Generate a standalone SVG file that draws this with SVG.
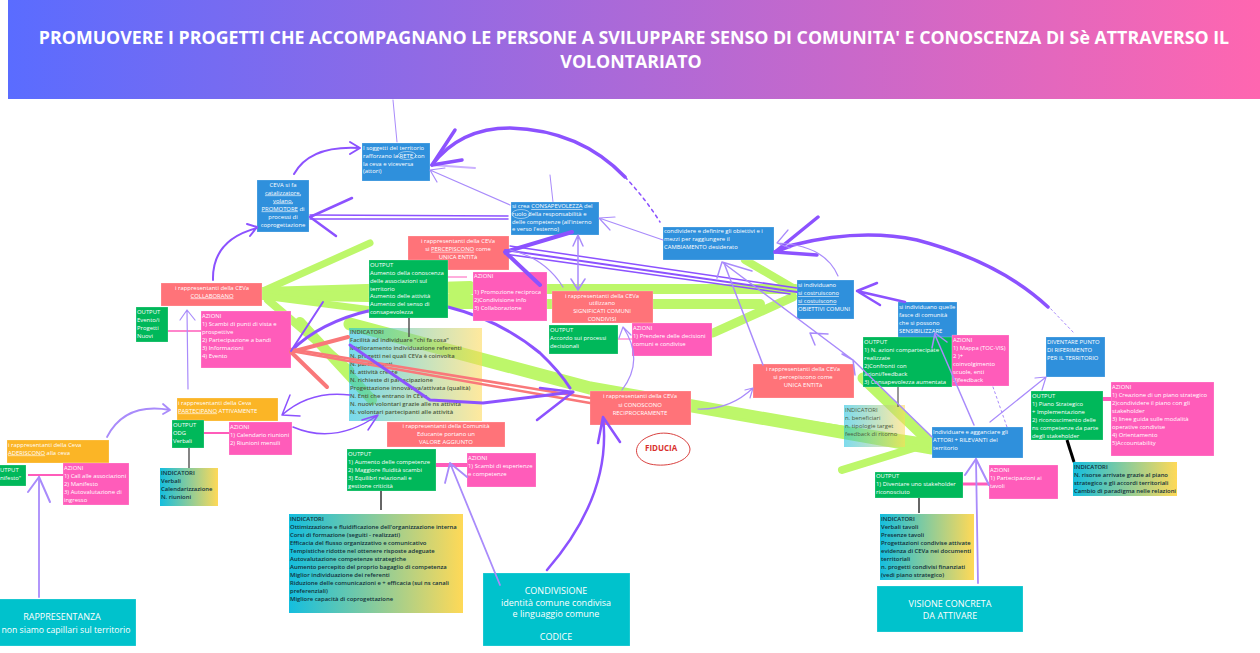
<svg xmlns="http://www.w3.org/2000/svg" width="1260" height="653" viewBox="0 0 1260 653">
<style>
text{font-family:"Open Sans","Liberation Sans",sans-serif;font-size:5.9px;fill:#fff}
.c{text-anchor:middle}
.u{text-decoration:underline}
.d{fill:#10303a;font-weight:600}
.dl{fill:#4d5a3c;font-weight:600}
.big{font-size:9px;text-anchor:middle}
.title{font-size:17.8px;font-weight:700;text-anchor:middle}
.blue{fill:#2f90dc}.coral{fill:#ff7379}.green{fill:#00b85a}.pink{fill:#ff5cba}.orange{fill:#fbb526}.teal{fill:#00c2cc}
.box{stroke:#fff;stroke-opacity:.35;stroke-width:.6}
.p,.lp,.g,.r,.k,.m{fill:none;stroke-linecap:round;stroke-linejoin:round}
.p{stroke:#8c52ff}.lp{stroke:#a98bfb}.g{stroke:#bdf76a}.r{stroke:#f9787a}.k{stroke:#555;stroke-linecap:butt}.m{stroke:#ff5cba;stroke-linecap:butt}
</style>
<defs>
<linearGradient id="hd" x1="0" x2="1" y1="0" y2="0"><stop offset="0" stop-color="#5a6cff"/><stop offset="1" stop-color="#ff66b0"/></linearGradient>
<linearGradient id="ind" x1="0" x2="1" y1="0" y2="0"><stop offset="0" stop-color="#14bedf"/><stop offset="1" stop-color="#ffd957"/></linearGradient>
</defs>
<rect width="1260" height="653" fill="#fff"/>
<g id="header"><rect x="8" y="0" width="1252" height="99" fill="url(#hd)"/>
<text class="title" x="634" y="44">PROMUOVERE I PROGETTI CHE ACCOMPAGNANO LE PERSONE A SVILUPPARE SENSO DI COMUNITA' E CONOSCENZA DI Sè ATTRAVERSO IL</text>
<text class="title" x="631" y="68">VOLONTARIATO</text></g>

<g id="connectors-back">
<g class="g" stroke-width="7">
<path d="M263 291L370 243" stroke-width="7"/><path d="M263 291L470 285" stroke-width="8"/><path d="M263 295L470 299" stroke-width="10"/><path d="M263 296L372 310" stroke-width="7"/>
<path d="M268 300L350 370" stroke-width="8"/><path d="M300 322L372 400" stroke-width="10"/>
<path d="M450 289H795" stroke-width="10"/><path d="M450 304H760" stroke-width="10"/><path d="M713 333L793 297" stroke-width="9"/><path d="M745 260L793 288" stroke-width="8"/>
<path d="M350 324L590 388L932 448" stroke-width="13"/>
<path d="M863 378L930 442" stroke-width="11"/><path d="M930 443L842 470" stroke-width="8"/><path d="M932 443L700 408" stroke-width="8"/>
</g>
<path class="p" stroke-width="3" d="M372 310Q320 322 291 351"/>
<path class="p" stroke-width="3" d="M448 307Q500 320 540 353Q560 372 570 388"/>
<path class="lp" stroke-width="1" d="M397 142L393 100"/><path class="lp" stroke-width="1" d="M553 202L550 175"/>
</g>

<g id="node-soggetti"><rect class="blue box" x="362" y="143" width="68" height="38"/><text x="363" y="150">I soggetti del territorio<tspan x="363" dy="7.8">rafforzano la RETE con</tspan><tspan x="363" dy="7.8">la ceva e viceversa</tspan><tspan x="363" dy="7.8">(attori)</tspan></text><ellipse cx="407" cy="155.5" rx="9" ry="4" fill="none" stroke="#fff" stroke-width=".5"/></g>
<g id="node-ceva"><rect class="blue box" x="257" y="180" width="52" height="52"/><text class="c" x="283" y="186.500">CEVA si fa<tspan class="u" x="283" dy="8">catalizzatore,</tspan><tspan class="u" x="283" dy="8">volano,</tspan><tspan x="283" dy="8"><tspan class="u">PROMOTORE</tspan> di</tspan><tspan x="283" dy="8">processi di</tspan><tspan x="283" dy="8">coprogettazione</tspan></text></g>
<g id="node-consapevolezza"><rect class="blue box" x="511" y="202" width="88" height="33"/><text x="512" y="208">si crea <tspan class="u">CONSAPEVOLEZZA</tspan> del<tspan x="512" dy="7.8">ruolo  della responsabilità e</tspan><tspan x="512" dy="7.8">delle competenze (all'interno</tspan><tspan x="512" dy="7.8">e verso l'esterno)</tspan></text><ellipse cx="521" cy="214" rx="9" ry="4.5" fill="none" stroke="#fff" stroke-width=".5"/></g>
<g id="node-percepiscono"><rect class="coral box" x="408" y="236" width="101" height="34"/><text class="c" x="458" y="243">i rappresentanti della CEVa<tspan x="458" dy="7.8">si <tspan class="u">PERCEPISCONO</tspan> come</tspan><tspan x="458" dy="7.8">UNICA ENTITà</tspan></text></g>
<g id="node-collaborano"><rect class="coral box" x="161" y="283" width="101" height="23"/><text class="c" x="212" y="289.500">i rappresentanti della CEVa<tspan class="u" x="212" dy="8">COLLABORANO</tspan></text></g>
<g id="node-output-aumento"><rect class="green box" x="369" y="260" width="79" height="58"/><text x="370" y="266.500">OUTPUT<tspan x="370" dy="8">Aumento della conoscenza</tspan><tspan x="370" dy="8">delle associazioni sul</tspan><tspan x="370" dy="8">territorio</tspan><tspan x="370" dy="7.500">Aumento delle attività</tspan><tspan x="370" dy="8">Aumento del senso di</tspan><tspan x="370" dy="8">consapevolezza</tspan></text></g>
<g id="node-azioni-promo"><rect class="pink box" x="473" y="272" width="74" height="49"/><text x="474" y="277.500">AZIONI<tspan x="474" dy="16">1) Promozione reciproca</tspan><tspan x="474" dy="8">2)Condivisione info</tspan><tspan x="474" dy="8">3) Collaborazione</tspan></text></g>
<g id="node-output-evento"><rect class="green box" x="136" y="307" width="32" height="35"/><text x="137" y="313.500">OUTPUT<tspan x="137" dy="8">Evento/i</tspan><tspan x="137" dy="8">Progetti</tspan><tspan x="137" dy="8">Nuovi</tspan></text></g>
<g id="node-azioni-scambi"><rect class="pink box" x="201" y="311" width="90" height="57"/><text x="202" y="317.500">AZIONI<tspan x="202" dy="8">1) Scambi di punti di vista e</tspan><tspan x="202" dy="8">prospettive</tspan><tspan x="202" dy="8">2) Partecipazione a bandi</tspan><tspan x="202" dy="8">3) Informazioni</tspan><tspan x="202" dy="8">4) Evento</tspan></text></g>
<g id="node-ind-facilita"><rect x="349" y="328" width="133" height="93" fill="url(#ind)" opacity=".58"/><text class="dl" x="350" y="334">INDICATORI<tspan x="350" dy="8">Facilità ad individuare "chi fa cosa"</tspan><tspan x="350" dy="8">Miglioramento individuazione referenti</tspan><tspan x="350" dy="8">N. progetti nei quali CEVa è coinvolta</tspan><tspan x="350" dy="8">N. partecipanti</tspan><tspan x="350" dy="8">N. attività create</tspan><tspan x="350" dy="8">N. richieste di partecipazione</tspan><tspan x="350" dy="8">Progettazione innovativa/attivata (qualità)</tspan><tspan x="350" dy="8">N. Enti che entrano in CEVa</tspan><tspan x="350" dy="8">N. nuovi volontari grazie alle ns attività</tspan><tspan x="350" dy="8">N. volontari partecipanti alle attività</tspan></text></g>
<g id="node-significati"><rect class="coral box" x="552" y="291" width="101" height="32"/><text class="c" x="602" y="297.500">i rappresentanti della CEVa<tspan x="602" dy="7.800">utilizzano</tspan><tspan x="602" dy="7.800">SIGNIFICATI COMUNI</tspan><tspan x="602" dy="7.800">CONDIVISI</tspan></text></g>
<g id="node-output-accordo"><rect class="green box" x="549" y="325" width="69" height="29"/><text x="550" y="331.500">OUTPUT<tspan x="550" dy="8">Accordo sui processi</tspan><tspan x="550" dy="8">decisionali</tspan></text></g>
<g id="node-azioni-prendere"><rect class="pink box" x="632" y="323" width="80" height="33"/><text x="633" y="329.500">AZIONI<tspan x="633" dy="8">1) Prendere delle decisioni</tspan><tspan x="633" dy="8">comuni e condivise</tspan></text></g>
<g id="node-conoscono"><rect class="coral box" x="590" y="391" width="101" height="34"/><text class="c" x="640" y="398">i rappresentanti della CEVa<tspan x="640" dy="8.500">si CONOSCONO</tspan><tspan x="640" dy="8.500">RECIPROCRAMENTE</tspan></text></g>
<g id="node-condividere"><rect class="blue box" x="663" y="227" width="111" height="33"/><text x="664" y="233">condividere  e definire gli obiettivi e i<tspan x="664" dy="8">mezzi per raggiungere il</tspan><tspan x="664" dy="8">CAMBIAMENTO desiderato</tspan></text></g>
<g id="node-obiettivi"><rect class="blue box" x="797" y="280" width="57" height="39"/><text x="798" y="287">si individuano<tspan class="u" x="798" dy="8">si  costruiscono</tspan><tspan class="u" x="798" dy="8">si costuiscono</tspan><tspan x="798" dy="8">OBIETTIVI COMUNI</tspan></text></g>
<g id="node-fasce"><rect class="blue box" x="898" y="302" width="59" height="36"/><text x="899" y="308.500">si individuano quelle<tspan x="899" dy="8">fasce di comunità</tspan><tspan x="899" dy="8">che si possono</tspan><tspan x="899" dy="8">SENSIBILIZZARE</tspan></text></g>
<g id="node-unica"><rect class="coral box" x="753" y="364" width="101" height="34"/><text class="c" x="803" y="371">i rappresentanti della CEVa<tspan x="803" dy="8">si percepiscono come</tspan><tspan x="803" dy="8">UNICA ENTITà</tspan></text></g>
<g id="node-output-azioni"><rect class="green box" x="863" y="337" width="89" height="50"/><text x="864" y="343.500">OUTPUT<tspan x="864" dy="8">1) N. azioni compartecipate</tspan><tspan x="864" dy="8">realizzate</tspan><tspan x="864" dy="8">2)Confronti con</tspan><tspan x="864" dy="8">azioni/feedback</tspan><tspan x="864" dy="8">3) Consapevolezza aumentata</tspan></text></g>
<g id="node-azioni-mappa"><rect class="pink box" x="952" y="335" width="57" height="51"/><text x="953" y="341.500">AZIONI<tspan x="953" dy="8">1) Mappa (TOC-VIS)</tspan><tspan x="953" dy="8">2 )+</tspan><tspan x="953" dy="8">coinvolgimento</tspan><tspan x="953" dy="8">scuole, enti</tspan><tspan x="953" dy="8">3)feedback</tspan></text></g>
<g id="node-ind-beneficiari"><rect x="844" y="405" width="61" height="42" fill="url(#ind)" opacity=".55"/><text class="dl" style="font-weight:400" x="845" y="411.500">INDICATORI<tspan x="845" dy="8">n. beneficiari</tspan><tspan x="845" dy="8">n. tipologie target</tspan><tspan x="845" dy="8">feedback di ritorno</tspan></text></g>
<g id="node-individuare"><rect class="blue box" x="932" y="427" width="91" height="31"/><text x="933" y="433.500">Individuare e agganciare gli<tspan x="933" dy="8">ATTORI + RILEVANTI del</tspan><tspan x="933" dy="8">territorio</tspan></text></g>
<g id="node-diventare"><rect class="blue box" x="1046" y="337" width="59" height="40"/><text x="1047" y="343.500">DIVENTARE PUNTO<tspan x="1047" dy="8">DI RIFERIMENTO</tspan><tspan x="1047" dy="8">PER IL TERRITORIO</tspan></text></g>
<g id="node-output-piano"><rect class="green box" x="1031" y="391" width="72" height="49"/><text x="1032" y="397.500">OUTPUT<tspan x="1032" dy="8">1) Piano Strategico</tspan><tspan x="1032" dy="8">+ Implementazione</tspan><tspan x="1032" dy="8">2) riconoscimento delle</tspan><tspan x="1032" dy="8">ns competenze da parte</tspan><tspan x="1032" dy="8">degli stakeholder</tspan></text></g>
<g id="node-azioni-creazione"><rect class="pink box" x="1111" y="382" width="103" height="74"/><text x="1112" y="388.500">AZIONI<tspan x="1112" dy="8">1) Creazione di un piano strategico</tspan><tspan x="1112" dy="8">2)condividere il piano con gli</tspan><tspan x="1112" dy="8">stakeholder</tspan><tspan x="1112" dy="8">3) linee guida sulle modalità</tspan><tspan x="1112" dy="8">operative condivise</tspan><tspan x="1112" dy="8">4) Orientamento</tspan><tspan x="1112" dy="8">5)Accountability</tspan></text></g>
<g id="node-ind-risorse"><rect x="1073" y="462" width="104" height="34" fill="url(#ind)"/><text class="d" x="1074" y="468.500">INDICATORI<tspan x="1074" dy="8">N. risorse arrivate grazie al piano</tspan><tspan x="1074" dy="8">strategico e gli accordi territoriali</tspan><tspan x="1074" dy="8">Cambio di paradigma nelle relazioni</tspan></text></g>
<g id="node-output-stakeholder"><rect class="green box" x="875" y="472" width="88" height="26"/><text x="876" y="477.500">OUTPUT<tspan x="876" dy="8">1) Diventare uno stakeholder</tspan><tspan x="876" dy="8">riconosciuto</tspan></text></g>
<g id="node-azioni-tavoli"><rect class="pink box" x="989" y="465" width="69" height="34"/><text x="990" y="471.500">AZIONI<tspan x="990" dy="8">1) Partecipazioni ai</tspan><tspan x="990" dy="8">tavoli</tspan></text></g>
<g id="node-ind-verbali2"><rect x="880" y="514" width="94" height="66" fill="url(#ind)"/><text class="d" x="881" y="520.500">INDICATORI<tspan x="881" dy="8">Verbali tavoli</tspan><tspan x="881" dy="8">Presenze tavoli</tspan><tspan x="881" dy="8">Progettazioni condivise attivate</tspan><tspan x="881" dy="8">evidenza di CEVa nei documenti</tspan><tspan x="881" dy="8">territoriali</tspan><tspan x="881" dy="8">n. progetti condivisi finanziati</tspan><tspan x="881" dy="8">(vedi piano strategico)</tspan></text></g>
<g id="node-visione"><rect class="teal box" x="877" y="586" width="146" height="46"/><text class="big" x="950" y="607">VISIONE CONCRETA<tspan x="950" dy="12">DA ATTIVARE</tspan></text></g>
<g id="node-aderiscono"><rect class="orange box" x="7" y="440" width="102" height="23"/><text x="8" y="446.500">i rappresentanti della Ceva<tspan x="8" dy="8"><tspan class="u">ADERISCONO</tspan> alla ceva</tspan></text></g>
<g id="node-output-manifesto"><rect class="green box" x="-3" y="465" width="29" height="21"/><text x="0" y="471.500">UTPUT<tspan x="0" dy="8">nifesto"</tspan></text></g>
<g id="node-azioni-call"><rect class="pink box" x="63" y="463" width="66" height="42"/><text x="64" y="469.500">AZIONI<tspan x="64" dy="8">1) Call alle associazioni</tspan><tspan x="64" dy="8">2) Manifesto</tspan><tspan x="64" dy="8">3) Autovalutazione di</tspan><tspan x="64" dy="8">ingresso</tspan></text></g>
<g id="node-partecipano"><rect class="orange box" x="177" y="398" width="101" height="23"/><text x="178" y="404.500">i rappresentanti della Ceva<tspan x="178" dy="8"><tspan class="u">PARTECIPANO</tspan> ATTIVAMENTE</tspan></text></g>
<g id="node-output-odg"><rect class="green box" x="172" y="420" width="32" height="28"/><text x="173" y="426.500">OUTPUT<tspan x="173" dy="8">ODG</tspan><tspan x="173" dy="8">Verbali</tspan></text></g>
<g id="node-azioni-calendario"><rect class="pink box" x="229" y="422" width="63" height="33"/><text x="230" y="428.500">AZIONI<tspan x="230" dy="8">1) Calendario riunioni</tspan><tspan x="230" dy="8">2) Riunioni mensili</tspan></text></g>
<g id="node-ind-verbali"><rect x="160" y="468" width="58" height="38" fill="url(#ind)"/><text class="d" x="161" y="474.500">INDICATORI<tspan x="161" dy="8">Verbali</tspan><tspan x="161" dy="8">Calendarizzazione</tspan><tspan x="161" dy="8">N. riunioni</tspan></text></g>
<g id="node-rappresentanza"><rect class="teal box" x="-3" y="599" width="139" height="47"/><text class="big" x="62" y="620">RAPPRESENTANZA</text><text class="big" x="66" y="632.500" style="font-size:8.7px">non siamo capillari sul territorio</text></g>
<g id="node-comunita"><rect class="coral box" x="387" y="422" width="118" height="25"/><text class="c" x="446" y="428">i rappresentanti della Comunità<tspan x="446" dy="8">Educante portano un</tspan><tspan x="446" dy="8">VALORE AGGIUNTO</tspan></text></g>
<g id="node-output-competenze"><rect class="green box" x="347" y="449" width="89" height="42"/><text x="348" y="455.500">OUTPUT<tspan x="348" dy="8">1) Aumento delle competenze</tspan><tspan x="348" dy="8">2) Maggiore fluidità scambi</tspan><tspan x="348" dy="8">3) Equilibri relazionali e</tspan><tspan x="348" dy="8">gestione criticità</tspan></text></g>
<g id="node-azioni-esperienze"><rect class="pink box" x="467" y="453" width="69" height="34"/><text x="468" y="459.500">AZIONI<tspan x="468" dy="8">1) Scambi di esperienze</tspan><tspan x="468" dy="8">e competenze</tspan></text></g>
<g id="node-ind-ottimizzazione"><rect x="289" y="514" width="174" height="99" fill="url(#ind)"/><text class="d" x="290" y="520.500">INDICATORI<tspan x="290" dy="8">Ottimizzazione e fluidificazione dell'organizzazione interna</tspan><tspan x="290" dy="8">Corsi di formazione (seguiti - realizzati)</tspan><tspan x="290" dy="8">Efficacia del flusso organizzativo e comunicativo</tspan><tspan x="290" dy="8">Tempistiche ridotte nel ottenere risposte adeguate</tspan><tspan x="290" dy="8">Autovalutazione competenze strategiche</tspan><tspan x="290" dy="8">Aumento percepito del proprio bagaglio di competenza</tspan><tspan x="290" dy="8">Miglior individuazione dei referenti</tspan><tspan x="290" dy="8">Riduzione delle comunicazioni e + efficacia (sui ns canali</tspan><tspan x="290" dy="8">preferenziali)</tspan><tspan x="290" dy="8">Migliore capacità di coprogettazione</tspan></text></g>
<g id="node-condivisione"><rect class="teal box" x="483" y="573" width="147" height="73"/><text class="big" x="556" y="593.500">CONDIVISIONE<tspan x="556" dy="12">identità comune condivisa</tspan><tspan x="556" dy="11.500">e linguaggio comune</tspan><tspan x="556" dy="23">CODICE</tspan></text></g>
<g id="node-fiducia"><path d="M650 436C668 428 689 438 690 449C690 461 668 468 650 464C632 459 632 443 650 436Z" fill="none" stroke="#d9413f" stroke-width="1"/><text x="645" y="451" style="font-size:8px;font-weight:700;fill:#d9302e">FIDUCIA</text></g>

<g id="connectors-front">
<g class="m"><path stroke-width="1.500" d="M168 331H201"/><path stroke-width="1" d="M448 277H467"/><path stroke-width="2" d="M28 475H63"/><path stroke-width="2" d="M204 433H229"/><path stroke-width="4" d="M436 465H467"/><path stroke-width="3" d="M963 484H989"/><path stroke-width="4" d="M1103 399H1111"/><path stroke-width="1" d="M618 339H632"/></g>
<g class="k"><path stroke-width="1.500" d="M409 318V337"/><path stroke-width="1.200" d="M189 448V468" style="stroke:#333"/><path stroke-width="2" d="M381 491V510" style="stroke:#666"/><path stroke-width="3" d="M1067 440L1074 462" style="stroke:#000"/><path stroke-width="2" d="M919 498V513" style="stroke:#666"/><path stroke-width="1.200" d="M898 387V407"/></g>
<g class="r"><path stroke-width="2.500" d="M291 351L590 403"/><path stroke-width="2.500" d="M291 349L590 398"/><path stroke-width="4" d="M348 337L291 352L327 387"/></g>
<g class="p" stroke-width="2">
<path d="M294 174Q310 145 360 148M350 142L360 148L350 154"/>
<path d="M213 280Q212 240 257 228M247 224L257 227L250 236"/>
<path stroke-width="1.500" d="M508 216L310 215M508 219L310 219"/><path stroke-width="2.500" d="M352 198L310 217L336 236"/>
<path stroke-width="3.500" d="M625 177Q580 130 510 128Q460 128 432 165"/><path stroke-width="1.500" stroke-dasharray="3 4" d="M625 177Q645 198 660 222"/><path stroke-width="3.500" d="M455 130L432 165L462 160"/>
<path stroke-width="2" d="M432 165L475 168" opacity=".45"/>
<path stroke-width="3.500" d="M1048 307Q1000 262 917 240Q860 228 793 245L775 252"/><path stroke-width="3.500" d="M818 217L775 252L817 255"/>
<path stroke-width="4" d="M572 232L505 252L540 285"/>
<path stroke-width="2" d="M505 250L797 292"/><path stroke-width="1.500" d="M505 254L790 294"/><path stroke-width="1.500" d="M510 246L797 288"/>
<path stroke-width="2.500" d="M857 291L905 302M877 283L857 291L880 305"/>
<path stroke-width="3" d="M350 345L430 400L483 403L573 392"/><path stroke-width="2.500" d="M540 388L573 392L537 420"/>
<path stroke-width="2.500" d="M547 570Q612 495 603 417M598 443L603 417L620 442"/>
<path stroke-width="2" d="M323 302L291 351"/>
<path stroke-width="1.500" d="M350 395Q310 390 282 415M290 395L282 415L300 416"/>
<path stroke-width="1.500" d="M293 427Q335 445 378 415M362 420L378 415L368 430"/>
</g>
<g class="lp" stroke-width="1.200">
<path d="M510 205L430 170M445 168L430 170L437 182"/>
<path d="M663 240L599 218M615 217L599 218L610 230"/>
<path stroke-width="1.500" d="M578 235V290M573 246L578 235L583 246M571 279L578 290L585 279"/>
<path d="M563 287Q545 258 510 250"/>
<path d="M622 390Q645 360 623 327M619 338L623 327L631 335"/>
<path d="M698 409Q730 410 753 388M745 390L753 388L750 398"/>
<path d="M838 276Q825 245 777 243M788 230L777 243L790 248"/>
<path stroke-width="1.500" d="M932 437L853 360L722 262M855 375L853 360L842 354M828 334L810 333L815 345M717 278L722 262L752 271"/>
<path stroke-width="1.500" d="M763 365L724 263"/>
<path stroke-width="1.500" d="M974 425L935 335M932 348L935 333L947 342"/>
<path stroke-width="1.200" d="M990 422L1046 377M1035 378L1046 377L1042 390"/>
<path stroke-width="1" stroke-dasharray="2 3" d="M993 387L1007 427"/>
<path stroke-width="1" stroke-dasharray="2 3" d="M1073 332L1049 307"/>
<path stroke-width="1.800" d="M978 583L976 459"/><path stroke-width="2" d="M965 475L976 459L989 485"/>
<path stroke-width="1.800" d="M39 597V477"/><path stroke-width="2" d="M28 492L39 477L50 502"/>
<path stroke-width="1.800" d="M107 437Q125 402 170 410M163 404L170 410L163 414"/>
<path stroke-width="1.200" d="M188 389L187 310M180 320L187 310L195 320"/>
<path stroke-width="1.800" d="M500 585L450 463M445 483L450 463L467 477"/>
</g>
</g>
</svg>
